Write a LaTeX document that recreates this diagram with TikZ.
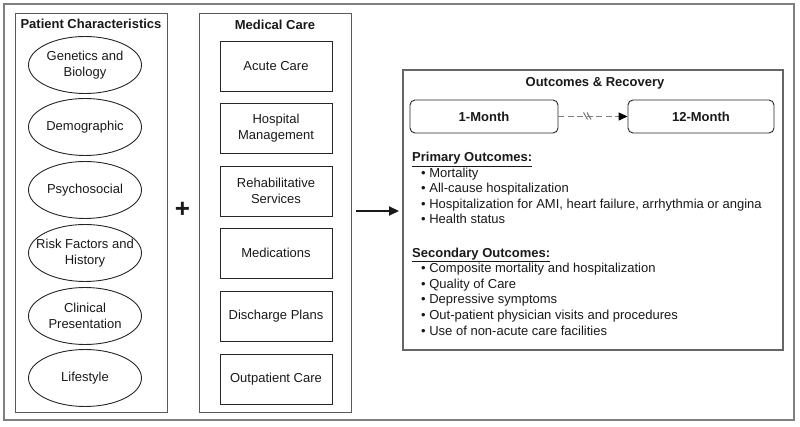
\documentclass[tikz,border=0pt]{standalone}
\usepackage{fontspec}
\setmainfont{Liberation Sans}
\usetikzlibrary{shapes.geometric,arrows.meta}
\begin{document}
\begin{tikzpicture}[x=1pt,y=-1pt,
  every node/.style={font=\fontsize{13}{16}\selectfont, inner sep=0pt, text=black!90},
  outerframe/.style={draw=black!50, line width=1.4pt},
  panel/.style={draw=black!65, line width=1pt, rectangle},
  oval/.style={draw=black!85, ellipse, minimum width=113pt, minimum height=57pt, line width=0.9pt},
  ovaltext/.style={align=center},
  care/.style={draw=black!85, rectangle, minimum width=112pt, minimum height=50pt, align=center, line width=0.9pt},
  period/.style={draw=black!85, rounded corners=5pt, minimum height=33pt, font=\fontsize{13}{15.5}\selectfont\bfseries, line width=0.9pt},
  heading/.style={font=\fontsize{13}{15.5}\selectfont\bfseries},
  item/.style={anchor=base west, font=\fontsize{13}{15.5}\selectfont},
]
\useasboundingbox (0,0) rectangle (800,427);
\draw[outerframe] (4,4) rectangle (794,420);

% panels
\node[panel, minimum width=152pt, minimum height=398pt] (patient) at (91,213) {};
\node[panel, minimum width=152pt, minimum height=398pt] (medical) at (275,213) {};
\node[heading] (pt) at (91,24) {Patient Characteristics};
\node[heading] (mt) at (275,25) {Medical Care};

% ellipses
\node[oval] (e1) at (85,65) {};
\node[ovaltext] (e1t) at (e1) {Genetics and\\Biology};
\node[oval] (e2) at (85,127) {};
\node[ovaltext] (e2t) at (e2) {Demographic};
\node[oval] (e3) at (85,190) {};
\node[ovaltext] (e3t) at (e3) {Psychosocial};
\node[oval] (e4) at (85,253) {};
\node[ovaltext] (e4t) at (e4) {Risk Factors and\\History};
\node[oval] (e5) at (85,316) {};
\node[ovaltext] (e5t) at (e5) {Clinical\\Presentation};
\node[oval] (e6) at (85,378) {};
\node[ovaltext] (e6t) at (e6) {Lifestyle};

% care boxes
\node[care] (c1) at (276,66) {Acute Care};
\node[care] (c2) at (276,128) {Hospital\\Management};
\node[care] (c3) at (276,191) {Rehabilitative\\Services};
\node[care] (c4) at (276,253) {Medications};
\node[care] (c5) at (276,316) {Discharge Plans};
\node[care] (c6) at (276,379) {Outpatient Care};

% plus and arrow
\node[font=\fontsize{26}{26}\selectfont\bfseries] (plus) at (182.5,210) {+};
\coordinate (as) at (356,211);
\coordinate (ae) at (399,211);
\draw[line width=2pt, black!90, -{Triangle[length=10pt,width=9pt]}] (as) -- (ae);

% outcomes
\node[draw=black!60, line width=1.2pt, minimum width=380pt, minimum height=280pt] (out) at (593,210) {};
\node[heading] (ot) at (595,83) {Outcomes \& Recovery};
\node[period, minimum width=148pt] (m1) at (484,116.5) {1-Month};
\node[period, minimum width=146pt] (m12) at (701,116.5) {12-Month};
\draw[black!50, line width=1.3pt, dash pattern=on 6pt off 3.5pt, -{Triangle[length=9pt,width=8pt,color=black]}] (m1) -- (m12);
\coordinate (brk) at (588,116);
\draw[black!55, line width=1pt] ([xshift=-4.5pt,yshift=3.5pt]brk) -- ([xshift=-0.5pt,yshift=-3.5pt]brk);
\draw[black!55, line width=1pt] ([xshift=-1pt,yshift=3.5pt]brk) -- ([xshift=3pt,yshift=-3.5pt]brk);

\node[item, font=\fontsize{13}{15.5}\selectfont\bfseries] (ph) at (412,162) {\underline{Primary Outcomes:}};
\node[item] (p1) at (421,177.5) {\textbullet\ Mortality};
\node[item] (p2) at (421,193) {\textbullet\ All-cause hospitalization};
\node[item] (p3) at (421,208.5) {\textbullet\ Hospitalization for AMI, heart failure, arrhythmia or angina};
\node[item] (p4) at (421,224) {\textbullet\ Health status};

\node[item, font=\fontsize{13}{15.5}\selectfont\bfseries] (sh) at (412,257.5) {\underline{Secondary Outcomes:}};
\node[item] (s1) at (421,273) {\textbullet\ Composite mortality and hospitalization};
\node[item] (s2) at (421,288.5) {\textbullet\ Quality of Care};
\node[item] (s3) at (421,304) {\textbullet\ Depressive symptoms};
\node[item] (s4) at (421,319.5) {\textbullet\ Out-patient physician visits and procedures};
\node[item] (s5) at (421,335) {\textbullet\ Use of non-acute care facilities};
\end{tikzpicture}
\end{document}
